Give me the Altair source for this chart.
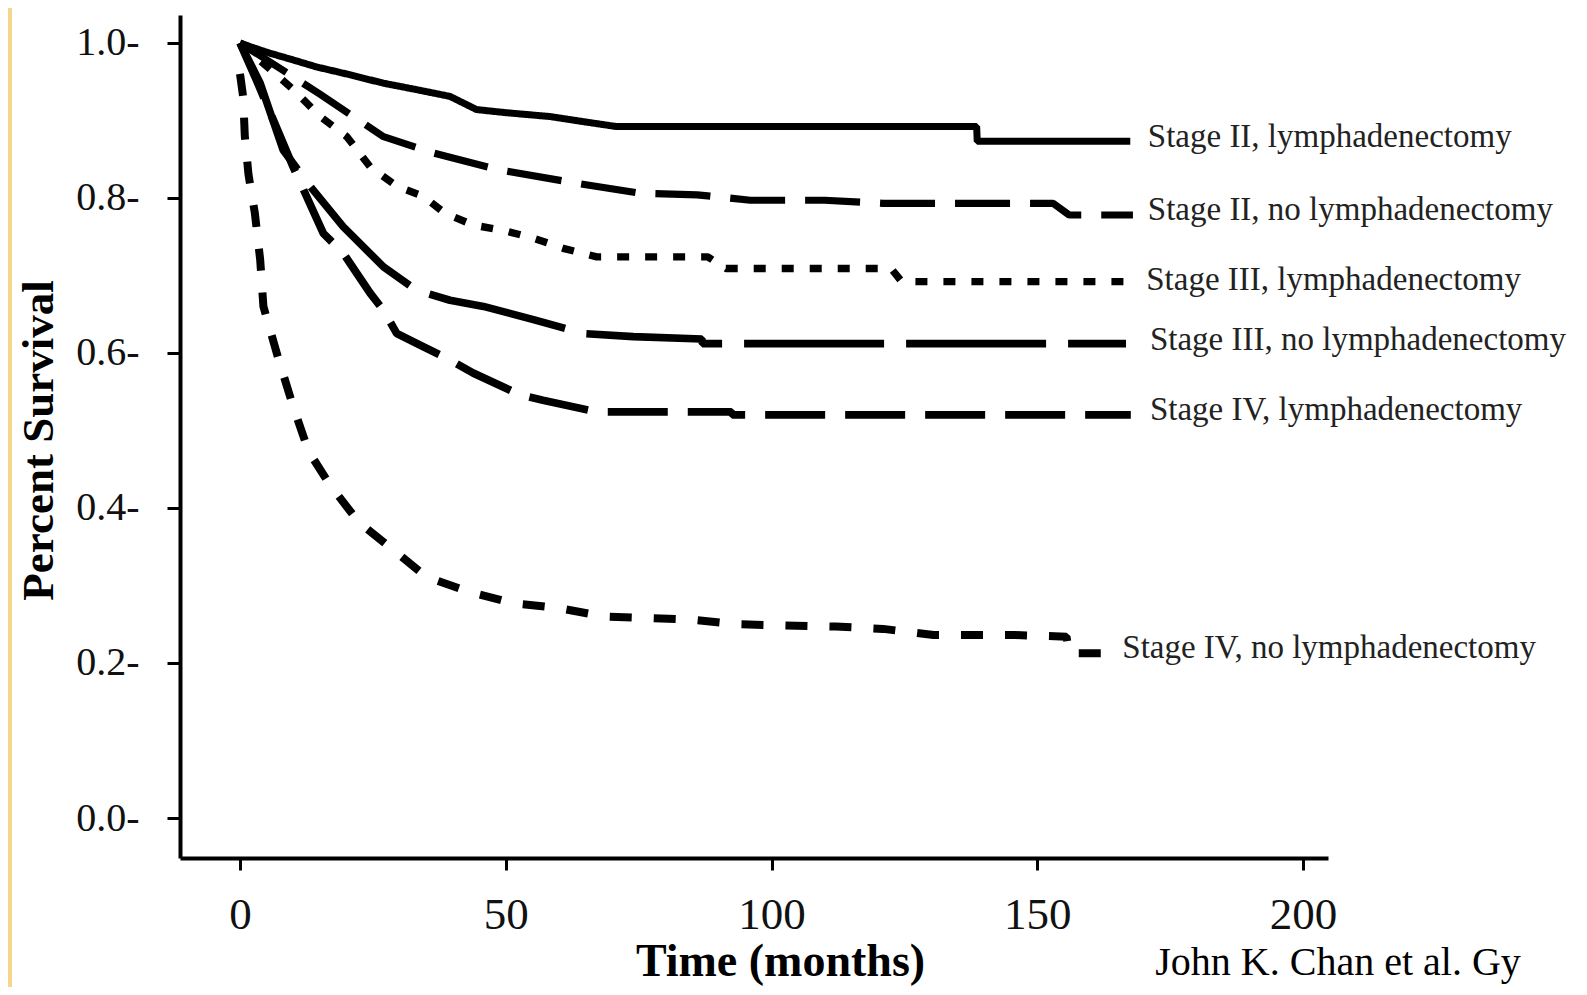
import altair as alt
import pandas as pd

# ---- data (time in months, survival fraction) ----
series_names = [
    "Stage II, lymphadenectomy",
    "Stage II, no lymphadenectomy",
    "Stage III, lymphadenectomy",
    "Stage III, no lymphadenectomy",
    "Stage IV, lymphadenectomy",
    "Stage IV, no lymphadenectomy",
]

t_s2_lymph = [0, 2, 5, 10, 14.4, 20, 27, 33, 39.5, 44.5, 50, 58.3, 65, 70.9, 77.1, 85, 138.6, 138.7, 167.5]
s_s2_lymph = [1.0, 0.995, 0.988, 0.978, 0.969, 0.96, 0.948, 0.94, 0.931, 0.914, 0.91, 0.905, 0.898, 0.892, 0.892, 0.892, 0.892, 0.873, 0.873]

t_s2_nolymph = [0, 8, 15, 27, 36.4, 48.9, 63.3, 75.3, 86, 96, 110, 121, 153, 156, 168]
s_s2_nolymph = [1.0, 0.965, 0.934, 0.879, 0.858, 0.836, 0.819, 0.806, 0.804, 0.797, 0.797, 0.793, 0.793, 0.778, 0.778]

t_s3_lymph = [0, 5, 10, 15.1, 20.1, 24.5, 29.5, 34.5, 38.6, 43.9, 50.2, 55.2, 60.8, 67.1, 88, 91.4, 122.5, 124.5, 168]
s_s3_lymph = [1.0, 0.97, 0.94, 0.905, 0.879, 0.840, 0.815, 0.802, 0.780, 0.765, 0.757, 0.748, 0.735, 0.724, 0.724, 0.709, 0.709, 0.692, 0.692]

t_s3_nolymph = [0, 3.8, 8.1, 13.2, 19.4, 27, 33.2, 39.5, 45.8, 55.2, 64.6, 74, 86.9, 87, 166.7]
s_s3_nolymph = [1.0, 0.948, 0.862, 0.815, 0.763, 0.711, 0.681, 0.668, 0.660, 0.643, 0.625, 0.621, 0.618, 0.612, 0.612]

t_s4_lymph = [0, 3.1, 10, 15.7, 19.4, 24.5, 27, 29.5, 34.5, 39.5, 43.9, 52.7, 57, 67.1, 92.5, 92.6, 167.6]
s_s4_lymph = [1.0, 0.952, 0.840, 0.754, 0.729, 0.677, 0.655, 0.625, 0.608, 0.591, 0.574, 0.546, 0.539, 0.524, 0.524, 0.520, 0.520]

t_s4_nolymph = [0, 0.6, 0.9, 1.6, 2.8, 3.8, 4.4, 7.2, 10, 12.9, 16.9, 22.3, 28.8, 35.1, 43, 51.4, 59.9,
                68.4, 76.5, 84.9, 93.2, 112.1, 121, 130.5, 145.9, 155.5, 156, 163.7]
s_s4_nolymph = [0.96, 0.93, 0.88, 0.83, 0.78, 0.72, 0.66, 0.593, 0.531, 0.473, 0.43, 0.382, 0.346, 0.311, 0.292, 0.277, 0.271,
                0.26, 0.258, 0.256, 0.25, 0.247, 0.244, 0.236, 0.236, 0.234, 0.2125, 0.2125]

label_x = [170.8, 170.8, 170.5, 171.2, 171.2, 166.0]
label_y = [0.879, 0.784, 0.694, 0.617, 0.526, 0.219]

x_ticks = [0, 50, 100, 150, 200]
y_ticks = [0.0, 0.2, 0.4, 0.6, 0.8, 1.0]

citation = ["John K. Chan et al. Gy"]
citation_x = [172.2]
citation_y = [-0.2026]

# ---- build table ----
all_t = [t_s2_lymph, t_s2_nolymph, t_s3_lymph, t_s3_nolymph, t_s4_lymph, t_s4_nolymph]
all_s = [s_s2_lymph, s_s2_nolymph, s_s3_lymph, s_s3_nolymph, s_s4_lymph, s_s4_nolymph]
rows = []
for name, ts, ss in zip(series_names, all_t, all_s):
    for i, (t, s) in enumerate(zip(ts, ss)):
        rows.append({"series": name, "t": t, "s": s, "order": i})
df = pd.DataFrame(rows)

labels_df = pd.DataFrame({"series": series_names, "t": label_x, "s": label_y})
cite_df = pd.DataFrame({"text": citation, "t": citation_x, "s": citation_y})

FONT = "Liberation Serif"
xscale = alt.Scale(domain=[-11.29, 204.7], nice=False, zero=False)
yscale = alt.Scale(domain=[-0.0516, 1.036], nice=False, zero=False)

lines = alt.Chart(df).mark_line(color="black", strokeCap="butt", strokeJoin="bevel").encode(
    x=alt.X("t:Q", scale=xscale, axis=alt.Axis(
        values=x_ticks, title="Time (months)", grid=False,
        domainColor="black", domainWidth=4, tickColor="black", tickWidth=3, tickSize=12,
        labelFont=FONT, labelFontSize=45, labelColor="#111", labelPadding=22,
        titleFont=FONT, titleFontSize=46, titleFontWeight="bold", titleColor="black",
        titleX=600, titleY=117, titleAlign="center", titleBaseline="alphabetic",
    )),
    y=alt.Y("s:Q", scale=yscale, axis=alt.Axis(
        values=y_ticks, format=".1f", labelExpr="datum.label + '-'", title="Percent Survival", grid=False,
        domainColor="black", domainWidth=4, tickColor="black", tickWidth=3, tickSize=13,
        labelFont=FONT, labelFontSize=40, labelColor="#111", labelPadding=28,
        titleFont=FONT, titleFontSize=45, titleFontWeight="bold", titleColor="black",
        titleAngle=270, titleX=-128, titleY=425, titleAlign="center", titleBaseline="alphabetic",
    )),
    detail="series:N",
    order="order:Q",
    strokeDash=alt.StrokeDash("series:N", legend=None, scale=alt.Scale(
        domain=series_names,
        range=[[1, 0], [55, 20], [12, 16], [140, 22], [60, 20], [22, 22]])),
    strokeWidth=alt.StrokeWidth("series:N", legend=None, scale=alt.Scale(
        domain=series_names, range=[7, 8, 8, 8, 8, 8])),
)

labels = alt.Chart(labels_df).mark_text(
    align="left", baseline="middle", font=FONT, fontSize=33, color="#222"
).encode(x=alt.X("t:Q", scale=xscale), y=alt.Y("s:Q", scale=yscale), text="series:N")

cite = alt.Chart(cite_df).mark_text(
    align="left", baseline="alphabetic", font=FONT, fontSize=40, color="black"
).encode(x=alt.X("t:Q", scale=xscale), y=alt.Y("s:Q", scale=yscale), text="text:N")

strip = alt.Chart(pd.DataFrame({"a": [0]})).mark_rect(color="#f6d68c").encode(
    x=alt.value(-172), x2=alt.value(-168), y=alt.value(-7), y2=alt.value(972)
)

chart = alt.layer(strip, lines, labels, cite).properties(
    width=1148, height=843,
    autosize=alt.AutoSizeParams(type="none"),
    padding={"left": 172, "top": 7, "right": 251, "bottom": 129},
    background="white",
).configure_view(stroke=None)

chart.save("out.html", embed_options={"renderer": "svg", "actions": False})
